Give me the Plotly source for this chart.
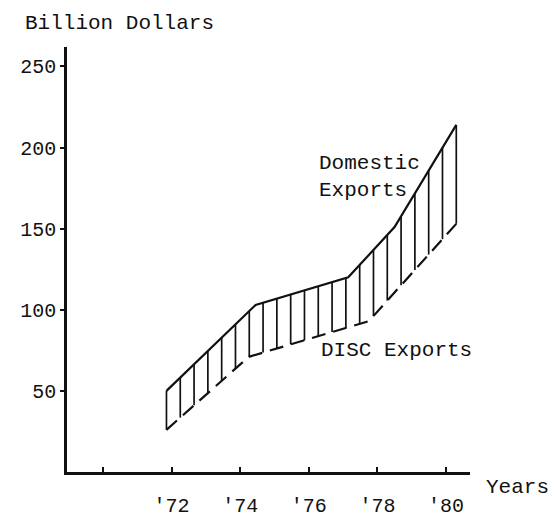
import numpy as np
import plotly.graph_objects as go

# ---- data ----
dom_years = [71.85, 74.45, 77.15, 78.5, 80.3]
domestic = [50, 103, 120, 151, 214]
disc_years = [71.85, 74.25, 77.75, 80.3]
disc = [26, 71, 93, 153]

y_ticks = [50, 100, 150, 200, 250]
x_tickvals = [70, 72, 74, 76, 78, 80]
x_ticktext = ["", "'72", "'74", "'76", "'78", "'80"]

FONT = "Liberation Mono, Courier New, monospace"
INK = "#111111"

fig = go.Figure()

# vertical hatching between the two series
hx = np.linspace(dom_years[0], dom_years[-1], 22)
up = np.interp(hx, dom_years, domestic)
lo = np.interp(hx, disc_years, disc)
xs, ys = [], []
for a, b, c in zip(hx, lo, up):
    xs += [a, a, None]
    ys += [b, c, None]
fig.add_trace(go.Scatter(x=xs, y=ys, mode="lines",
                         line=dict(color=INK, width=1.7),
                         hoverinfo="skip", showlegend=False))

fig.add_trace(go.Scatter(x=dom_years, y=domestic, mode="lines",
                         line=dict(color=INK, width=2.2),
                         name="Domestic Exports", showlegend=False))
fig.add_trace(go.Scatter(x=disc_years, y=disc, mode="lines",
                         line=dict(color=INK, width=2.2, dash="14px,8px"),
                         name="DISC Exports", showlegend=False))

fig.update_layout(
    width=550, height=522,
    margin=dict(l=52, r=88, t=39, b=30),
    paper_bgcolor="white", plot_bgcolor="white",
    font=dict(family=FONT, size=21, color=INK),
    xaxis=dict(range=[68.95, 80.7], showgrid=False, zeroline=False,
               showline=True, linecolor=INK, linewidth=2.5,
               tickmode="array", tickvals=x_tickvals, ticktext=x_ticktext,
               ticks="inside", ticklen=5, tickcolor=INK, tickwidth=1.5,
               ticklabelstandoff=13,
               tickfont=dict(family=FONT, size=20, color=INK)),
    yaxis=dict(range=[0, 262], showgrid=False, zeroline=False,
               showline=True, linecolor=INK, linewidth=2.5,
               tickmode="array", tickvals=y_ticks,
               ticks="outside", ticklen=4, tickcolor=INK, tickwidth=1.5,
               ticklabelstandoff=0,
               tickfont=dict(family=FONT, size=20, color=INK)),
    annotations=[
        dict(text="Billion Dollars", xref="paper", yref="paper",
             x=-0.11, y=1.056, xanchor="left", yanchor="middle",
             showarrow=False, font=dict(family=FONT, size=21, color=INK)),
        dict(text="Years", xref="paper", yref="paper",
             x=1.2, y=-0.036, xanchor="right", yanchor="middle",
             showarrow=False, font=dict(family=FONT, size=21, color=INK)),
        dict(text="Domestic<br>Exports", xref="x", yref="y",
             x=76.25, y=182, xanchor="left", yanchor="middle", align="left",
             showarrow=False, font=dict(family=FONT, size=21, color=INK)),
        dict(text="DISC Exports", xref="x", yref="y",
             x=76.3, y=75, xanchor="left", yanchor="middle",
             showarrow=False, font=dict(family=FONT, size=21, color=INK)),
    ],
)

fig.write_html("out.html")
